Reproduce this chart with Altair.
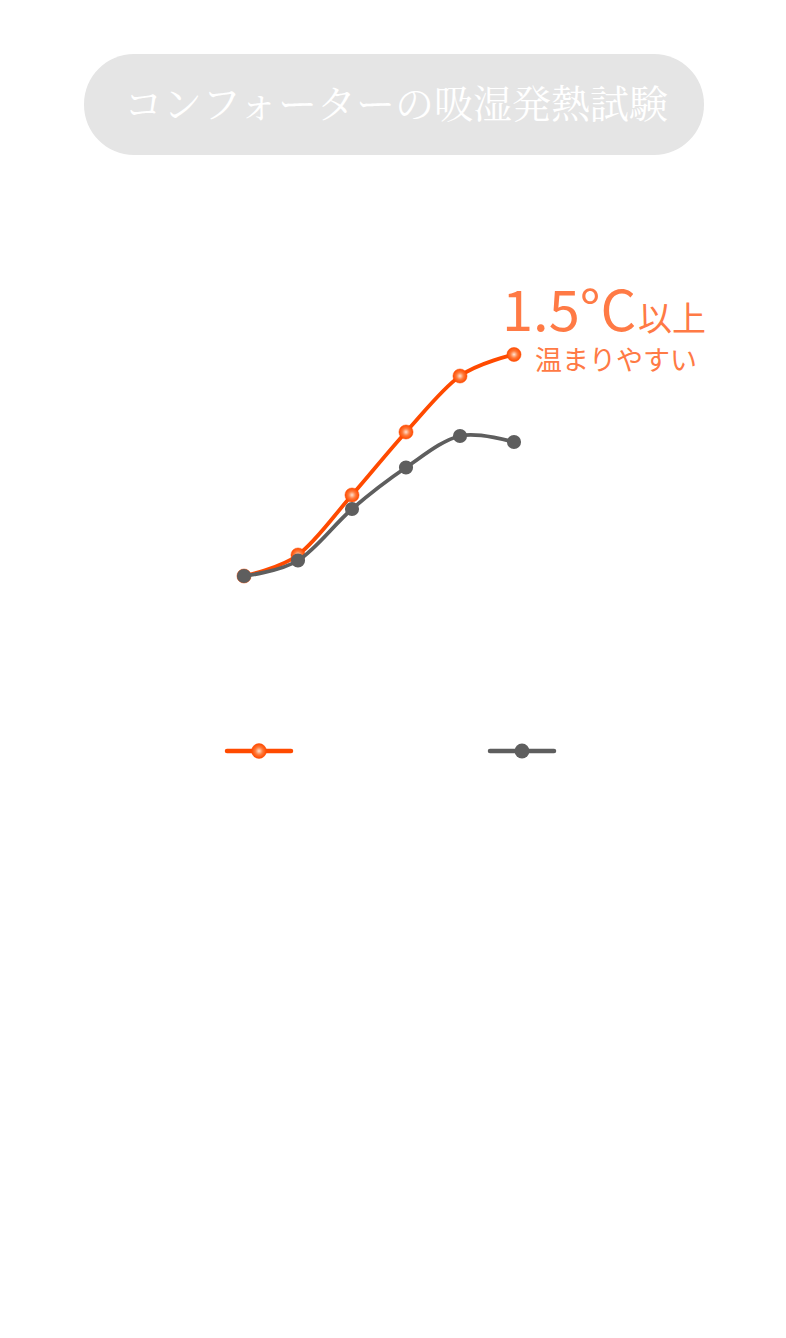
import altair as alt
import pandas as pd

# ---- data ----
title_text = "コンフォーターの吸湿発熱試験"
steps = [0, 1, 2, 3, 4, 5]
series_names = ["吸湿発熱コンフォーター", "一般コンフォーター"]
heat_values = [20.0, 20.42, 21.62, 22.88, 24.0, 24.43]
plain_values = [20.0, 20.31, 21.34, 22.17, 22.8, 22.68]
note_big = "1.5°C"
note_unit = "以上"
note_small = "温まりやすい"

ORANGE = "#FF4A00"
GREY = "#5E5E5E"
NOTE = "#FF7A45"
FONT = "Noto Sans CJK JP"

heat_df = pd.DataFrame({"step": steps, "temp": heat_values, "series": series_names[0]})
plain_df = pd.DataFrame({"step": steps, "temp": plain_values, "series": series_names[1]})
last_df = heat_df.tail(1).assign(big=note_big, unit=note_unit, small=note_small)

xs = alt.X("step:Q", scale=alt.Scale(domain=[0, 5], range=[236, 506], nice=False, zero=False), axis=None)
ys = alt.Y("temp:Q", scale=alt.Scale(domain=[20, 25], range=[568, 318], nice=False, zero=False), axis=None)

grad = alt.RadialGradient(
    gradient="radial",
    stops=[alt.GradientStop(offset=0, color="#FFE6D8"),
           alt.GradientStop(offset=0.5, color="#FF7A3A"),
           alt.GradientStop(offset=1, color="#FF4A00")],
    x1=0.5, y1=0.5, r1=0, x2=0.5, y2=0.5, r2=0.5,
)

PT = 200
heat_line = alt.Chart(heat_df).mark_line(color=ORANGE, strokeWidth=3.8, interpolate="cardinal").encode(x=xs, y=ys)
heat_pts = alt.Chart(heat_df).mark_point(filled=True, fill=grad, stroke=ORANGE, strokeWidth=0.5, opacity=1, size=PT, shape="circle").encode(x=xs, y=ys)
plain_line = alt.Chart(plain_df).mark_line(color=GREY, strokeWidth=3.8, interpolate="cardinal").encode(x=xs, y=ys)
plain_pts = alt.Chart(plain_df).mark_point(filled=True, color=GREY, opacity=1, size=PT, shape="circle").encode(x=xs, y=ys)

note1 = alt.Chart(last_df).mark_text(align="left", baseline="alphabetic", dx=-12, dy=-24, fontSize=56, font=FONT, color=NOTE).encode(x=xs, y=ys, text="big:N")
note2 = alt.Chart(last_df).mark_text(align="left", baseline="alphabetic", dx=124, dy=-24, fontSize=34, font=FONT, color=NOTE).encode(x=xs, y=ys, text="unit:N")
note3 = alt.Chart(last_df).mark_text(align="left", baseline="alphabetic", dx=21, dy=15, fontSize=27, font=FONT, color=NOTE).encode(x=xs, y=ys, text="small:N")

title_df = pd.DataFrame({"t": [title_text]})
pill = alt.Chart(title_df).mark_rect(color="#E5E5E5", cornerRadius=50).encode(
    x=alt.value(76), x2=alt.value(696), y=alt.value(46), y2=alt.value(147))
title = alt.Chart(title_df).mark_text(fontSize=39, font="Noto Serif CJK JP, serif", color="white", baseline="middle", align="center").encode(
    x=alt.value(388), y=alt.value(98), text="t:N")

# legend (symbols only)
leg_df = pd.DataFrame({"series": series_names})
leg_heat_line = alt.Chart(leg_df.head(1)).mark_rule(color=ORANGE, strokeWidth=4.5, strokeCap="round").encode(
    x=alt.value(219), x2=alt.value(283), y=alt.value(743))
leg_heat_pt = alt.Chart(leg_df.head(1)).mark_point(filled=True, fill=grad, stroke=ORANGE, strokeWidth=0.5, opacity=1, size=220, shape="circle").encode(
    x=alt.value(251), y=alt.value(743))
leg_plain_line = alt.Chart(leg_df.tail(1)).mark_rule(color=GREY, strokeWidth=4.5, strokeCap="round").encode(
    x=alt.value(482), x2=alt.value(546), y=alt.value(743))
leg_plain_pt = alt.Chart(leg_df.tail(1)).mark_point(filled=True, color=GREY, opacity=1, size=220, shape="circle").encode(
    x=alt.value(514), y=alt.value(743))

chart = alt.layer(
    pill, title,
    heat_line, heat_pts, plain_line, plain_pts,
    note1, note2, note3,
    leg_heat_line, leg_heat_pt, leg_plain_line, leg_plain_pt,
).properties(
    width=770, height=1322, padding=0, background="white",
    autosize=alt.AutoSizeParams(type="none"),
).configure_view(stroke=None)

chart.save("out.html", embed_options={"renderer": "svg", "actions": False})
